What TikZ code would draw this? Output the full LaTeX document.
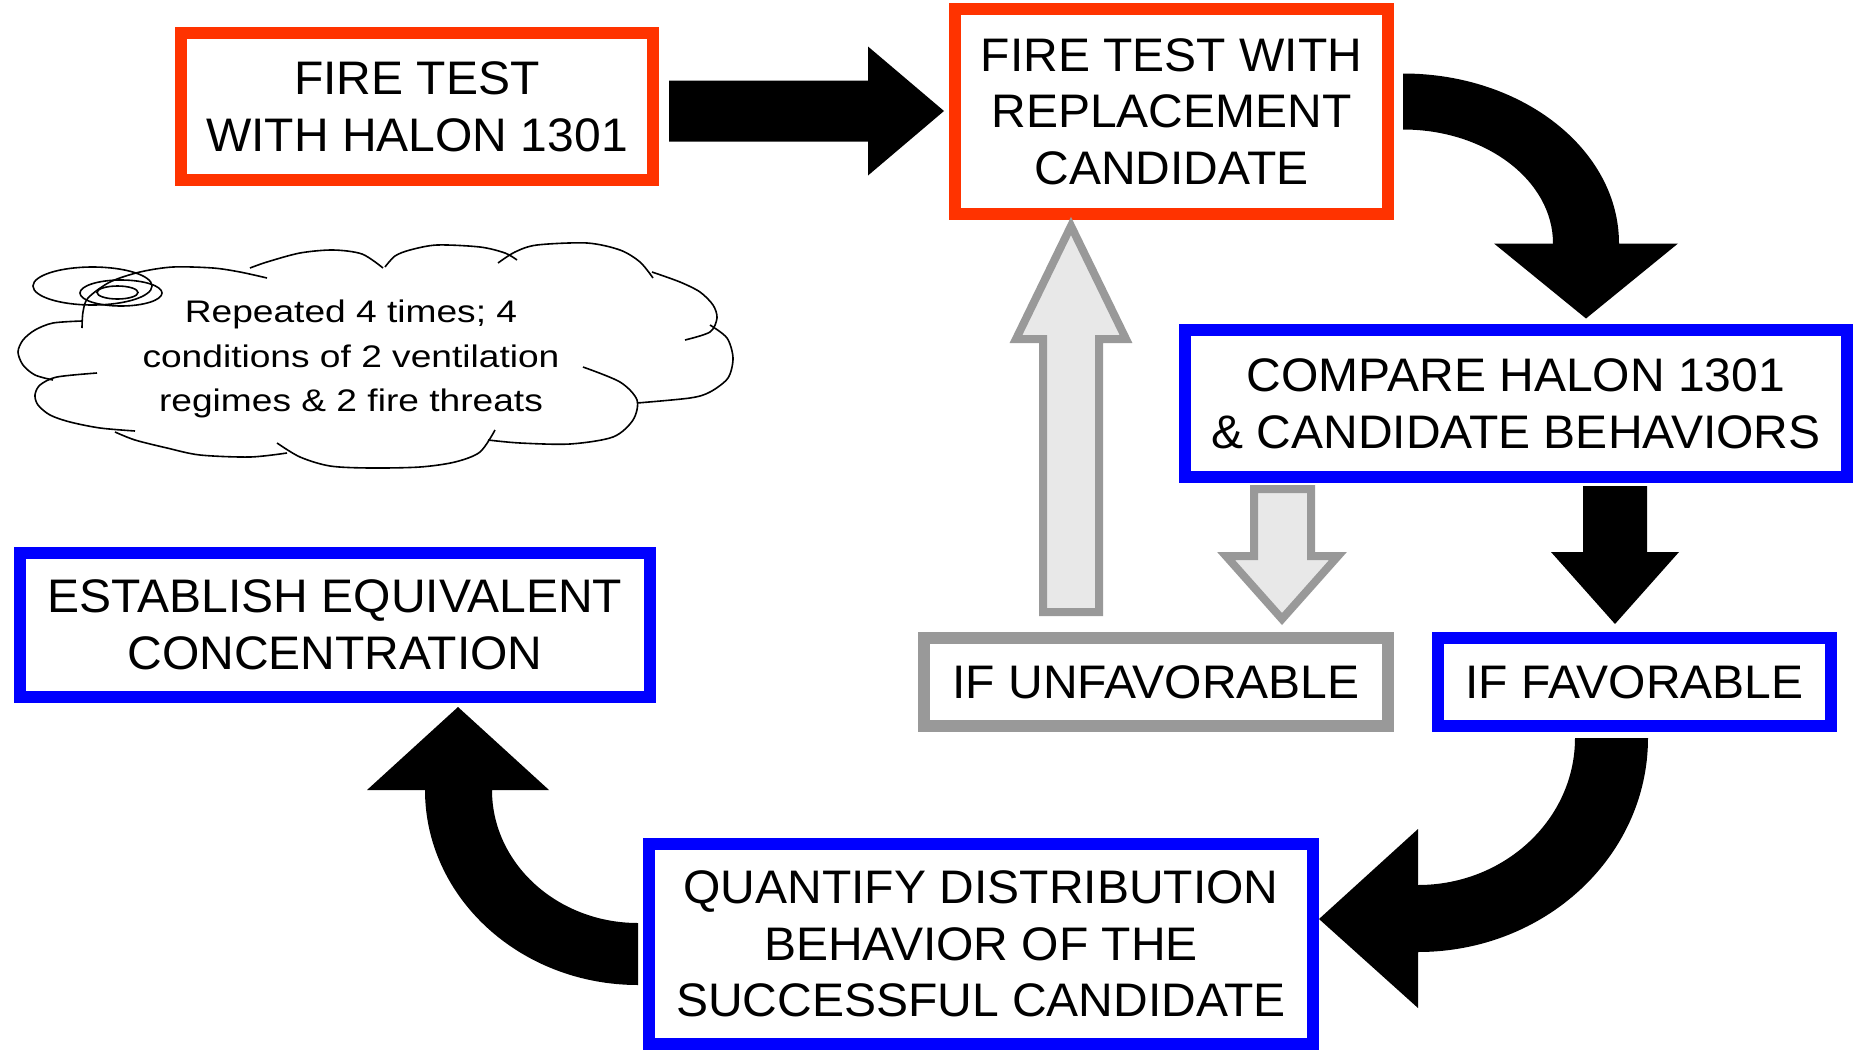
\documentclass[tikz,border=0pt]{standalone}
\usepackage{fontspec}
\setmainfont{Liberation Sans}[FakeStretch=1.02]
\newfontfamily\cloudfont{Liberation Sans}[FakeStretch=1.19]
\usetikzlibrary{calc}

\definecolor{firered}{RGB}{255,51,0}
\definecolor{evalblue}{RGB}{0,0,255}
\definecolor{loopgray}{RGB}{153,153,153}
\definecolor{loopfill}{RGB}{232,232,232}

\tikzset{every picture/.style={line width=0.75pt}}
\tikzset{
  procbox/.style={draw, line width=9pt, inner sep=0pt, align=center, font=\fontsize{35.3}{42.5}\selectfont},
  firebox/.style={procbox, draw=firered},
  evalbox/.style={procbox, draw=evalblue},
  branchbox/.style={procbox, draw=loopgray},
  bigarrow/.style={fill=black},
  loopback/.style={draw=loopgray, fill=loopfill, line width=6pt},
  puff/.style={line width=1.2pt}
}

\begin{document}
\begin{tikzpicture}[x=0.75pt,y=0.75pt,yscale=-1,xscale=1]
\useasboundingbox (0,0) rectangle (1857,1057);

% Boxes
\node[firebox, minimum width=354pt, minimum height=110.25pt] (fhalon) at (417,106.5) {FIRE TEST\\WITH HALON 1301};
\node[firebox, minimum width=324.75pt, minimum height=153.75pt] (frepl) at (1171.5,111.5) {FIRE TEST WITH\\REPLACEMENT\\CANDIDATE};
\node[evalbox, minimum width=496.5pt, minimum height=110.25pt] (compare) at (1516,403.5) {COMPARE HALON 1301\\\& CANDIDATE BEHAVIORS};
\node[branchbox, minimum width=348pt, minimum height=66pt] (unfav) at (1156,682) {IF UNFAVORABLE};
\node[evalbox, minimum width=294.75pt, minimum height=66pt] (fav) at (1634.5,682) {IF FAVORABLE};
\node[evalbox, minimum width=472.5pt, minimum height=108pt] (establish) at (335,625) {ESTABLISH EQUIVALENT\\CONCENTRATION};
\node[evalbox, minimum width=498pt, minimum height=150pt] (quantify) at (981,944) {QUANTIFY DISTRIBUTION\\BEHAVIOR OF THE\\SUCCESSFUL CANDIDATE};

% Black arrows
\fill[bigarrow] ($(fhalon.east)+(10,-26)$) -- ++(199,0) -- ++(0,-34) -- ++(76,64.5) -- ++(-76,64.5) -- ++(0,-34) -- ++(-199,0) -- cycle;
\fill[bigarrow] ($(frepl.east)+(9,-38)$) arc[start angle=-90, end angle=0, x radius=216, y radius=170] -- ++(59,0) -- ++(-92,75) -- ++(-92,-75) -- ++(59,0) arc[start angle=0, end angle=-90, x radius=150, y radius=114] -- cycle;
\fill[bigarrow] ($(compare.south)+(67,3)$) -- ++(64,0) -- ++(0,66) -- ++(32,0) -- ++(-64,72) -- ++(-64,-72) -- ++(32,0) -- cycle;
\fill[bigarrow] ($(fav.south)+(13.5,6)$) arc[start angle=0, end angle=90, x radius=230, y radius=214] -- ++(0,56) -- ++(-99,-89) -- ++(99,-90) -- ++(0,56) arc[start angle=90, end angle=0, x radius=157, y radius=147] -- cycle;
\fill[bigarrow] ($(quantify.west)+(-5,41)$) arc[start angle=90, end angle=180, x radius=213, y radius=195] -- ++(-58,0) -- ++(91,-83) -- ++(91,83) -- ++(-57,0) arc[start angle=180, end angle=90, x radius=146, y radius=133] -- cycle;

% Gray loop arrows
\draw[loopback] ($(unfav.north)+(-113,-20)$) -- ++(0,-273) -- ++(-27,0) -- ++(55,-113) -- ++(55,113) -- ++(-27,0) -- ++(0,273) -- cycle;
\draw[loopback] ($(compare.south)+(-262,6)$) -- ++(57,0) -- ++(0,67) -- ++(27,0) -- ++(-56,63) -- ++(-56,-63) -- ++(28,0) -- cycle;

% Cloud
\draw[puff] plot[smooth] coordinates {(82,328) (83,312) (88,298) (110,282) (140,272) (173,267) (213,268) (240,272) (267,278)};
\draw[puff] plot[smooth] coordinates {(250,268) (267,262) (300,253) (333,250) (362,254) (383,268)};
\draw[puff] plot[smooth] coordinates {(385,267) (395,256) (410,250) (437,245) (480,247) (505,253) (517,260)};
\draw[puff] plot[smooth] coordinates {(498,263) (515,252) (537,245) (587,243) (620,250) (640,262) (653,278)};
\draw[puff] plot[smooth] coordinates {(652,272) (680,282) (700,292) (713,305) (717,318) (710,332) (685,340)};
\draw[puff] plot[smooth] coordinates {(710,325) (727,338) (733,358) (728,378) (710,392) (690,398) (637,403)};
\draw[puff] plot[smooth] coordinates {(583,367) (620,382) (637,400) (633,420) (613,437) (570,444) (520,443) (488,440)};
\draw[puff] plot[smooth] coordinates {(495,430) (480,452) (455,462) (420,467) (370,468) (330,466) (300,457) (277,443)};
\draw[puff] plot[smooth] coordinates {(287,453) (250,457) (200,455) (167,448) (135,440) (115,432)};
\draw[puff] plot[smooth] coordinates {(135,431) (100,428) (70,422) (50,415) (38,405) (35,395) (40,385) (57,377) (97,373)};
\draw[puff] plot[smooth] coordinates {(53,380) (35,375) (23,365) (18,352) (23,340) (35,330) (53,323) (82,321)};
\draw[puff] (92.5,286) ellipse[x radius=59.5, y radius=19];
\draw[puff] (121,293) ellipse[x radius=41, y radius=13];
\draw[puff] (117.5,292.5) ellipse[x radius=20.5, y radius=6.5];

% Text Node
\node[font=\cloudfont\fontsize{23.4}{33.3}\selectfont, align=center, inner sep=0pt] (cloudnote) at (351,359) {Repeated 4 times; 4\\conditions of 2 ventilation\\regimes \& 2 fire threats};
\end{tikzpicture}
\end{document}
